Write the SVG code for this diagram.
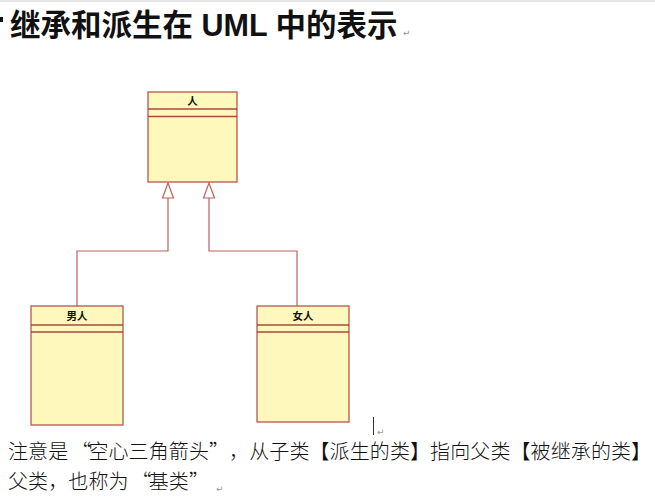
<svg xmlns="http://www.w3.org/2000/svg" width="655" height="504" viewBox="0 0 655 504">
<style>
.box{fill:#fff8bd;stroke:#b4574f;stroke-width:1.3}
.sep{stroke:#a8483f;stroke-width:1.3}
.cn{font-family:"Noto Sans CJK SC","Noto Sans",sans-serif;font-size:10.5px;font-weight:bold;fill:#111;text-anchor:middle}
.conn{fill:none;stroke:#c0605a;stroke-width:1.2}
.tri{fill:#ffffff;stroke:#c0605a;stroke-width:1.2}
.body{font-family:"Noto Sans CJK SC",sans-serif;font-size:20px;fill:#111;font-weight:300}
.mark{font-family:"DejaVu Sans",sans-serif;font-size:9px;fill:#999}
</style>
<rect x="0" y="0" width="655" height="504" fill="#ffffff"/>
<rect x="0" y="0" width="655" height="2" fill="#e6e6e6"/>
<rect x="0" y="17" width="3" height="5" fill="#111"/>
<text x="10" y="36" font-family="Liberation Sans,'Noto Sans CJK SC',sans-serif" font-size="30.5" font-weight="bold" fill="#111">继承和派生在 UML 中的表示</text>
<text x="403" y="36" class="mark">↵</text>

<g id="connectors">
<polyline class="conn" points="77,306 77,251 168,251 168,198"/>
<polyline class="conn" points="297,306 297,251 209,251 209,198"/>
<polygon class="tri" points="168,183 162.5,198 173.5,198"/>
<polygon class="tri" points="209,183 203.5,198 214.5,198"/>
</g>

<g id="node-ren">
<rect class="box" x="148" y="92" width="89" height="90"/>
<line class="sep" x1="148" y1="109" x2="237" y2="109"/>
<line class="sep" x1="148" y1="116.5" x2="237" y2="116.5"/>
<text class="cn" x="192.5" y="104.5">人</text>
</g>

<g id="node-nanren">
<rect class="box" x="31" y="306" width="92" height="119"/>
<line class="sep" x1="31" y1="325" x2="123" y2="325"/>
<line class="sep" x1="31" y1="332" x2="123" y2="332"/>
<text class="cn" x="77" y="320">男人</text>
</g>

<g id="node-nvren">
<rect class="box" x="257" y="306" width="92" height="116"/>
<line class="sep" x1="257" y1="325" x2="349" y2="325"/>
<line class="sep" x1="257" y1="332" x2="349" y2="332"/>
<text class="cn" x="303" y="320">女人</text>
</g>

<line x1="373.5" y1="417" x2="373.5" y2="435" stroke="#333" stroke-width="1"/>
<text x="377" y="435" class="mark">↵</text>

<text class="body" y="459" x="8 28.1 48.2 71.3 88.4 108.5 128.6 148.7 168.8 188.9 209 229.1 249.2 269.3 289.4 309.5 329.6 349.7 369.8 389.9 410 430.1 450.2 470.3 490.4 510.5 530.6 550.7 570.8 590.9 611 631.1">注意是“空心三角箭头”，从子类【派生的类】指向父类【被继承的类】</text>
<text class="body" y="489" x="8 28.1 48.2 68.3 88.4 108.5 131.6 148.7 168.8 188.9">父类，也称为“基类”</text>
<text x="216" y="492" class="mark">↵</text>
</svg>
